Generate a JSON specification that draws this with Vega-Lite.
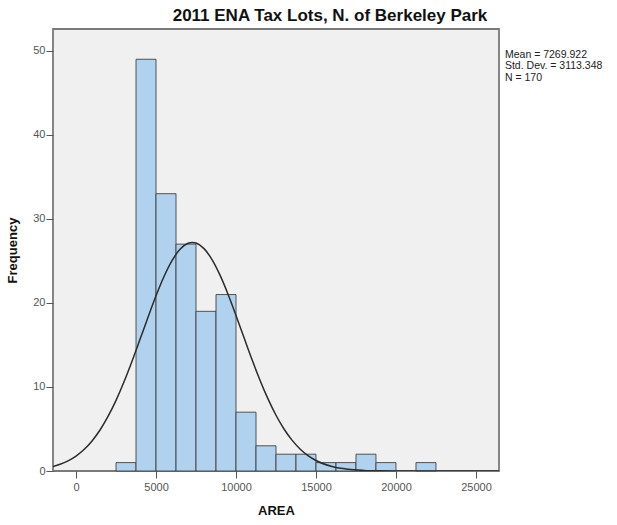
{
  "$schema": "https://vega.github.io/schema/vega-lite/v6.json",
  "autosize": {"type": "none"},
  "padding": {"left": 53, "top": 29, "right": 118, "bottom": 54},
  "width": 446,
  "height": 442,
  "background": "white",
  "config": {
    "view": {"fill": "#f0f0f0", "stroke": "#7a7a7a", "strokeWidth": 1.8},
    "font": "Liberation Sans",
    "axis": {
      "grid": false,
      "domain": false,
      "tickColor": "#555555",
      "tickSize": 7,
      "labelColor": "#555555",
      "labelFont": "Liberation Sans",
      "labelFontSize": 11,
      "titleFont": "Liberation Sans",
      "titleFontSize": 13,
      "titleFontWeight": "bold",
      "titleColor": "#111111"
    }
  },
  "title": {
    "text": "2011 ENA Tax Lots, N. of Berkeley Park",
    "font": "Liberation Sans",
    "fontSize": 17,
    "fontWeight": "bold",
    "color": "#111111",
    "anchor": "middle",
    "dx": 54,
    "offset": 4
  },
  "datasets": {
    "bins": [
      {"start": 2500, "end": 3750, "count": 1},
      {"start": 3750, "end": 5000, "count": 49},
      {"start": 5000, "end": 6250, "count": 33},
      {"start": 6250, "end": 7500, "count": 27},
      {"start": 7500, "end": 8750, "count": 19},
      {"start": 8750, "end": 10000, "count": 21},
      {"start": 10000, "end": 11250, "count": 7},
      {"start": 11250, "end": 12500, "count": 3},
      {"start": 12500, "end": 13750, "count": 2},
      {"start": 13750, "end": 15000, "count": 2},
      {"start": 15000, "end": 16250, "count": 1},
      {"start": 16250, "end": 17500, "count": 1},
      {"start": 17500, "end": 18750, "count": 2},
      {"start": 18750, "end": 20000, "count": 1},
      {"start": 21250, "end": 22500, "count": 1}
    ],
    "curve": [
      {"x": -1440, "y": 0.543},
      {"x": -1000, "y": 0.798},
      {"x": -500, "y": 1.207},
      {"x": 0, "y": 1.78},
      {"x": 500, "y": 2.555},
      {"x": 1000, "y": 3.578},
      {"x": 1500, "y": 4.882},
      {"x": 2000, "y": 6.49},
      {"x": 2500, "y": 8.409},
      {"x": 3000, "y": 10.617},
      {"x": 3500, "y": 13.063},
      {"x": 4000, "y": 15.666},
      {"x": 4500, "y": 18.308},
      {"x": 5000, "y": 20.85},
      {"x": 5500, "y": 23.141},
      {"x": 6000, "y": 25.028},
      {"x": 6500, "y": 26.381},
      {"x": 7000, "y": 27.098},
      {"x": 7270, "y": 27.2},
      {"x": 7500, "y": 27.126},
      {"x": 8000, "y": 26.462},
      {"x": 8500, "y": 25.158},
      {"x": 9000, "y": 23.308},
      {"x": 9500, "y": 21.045},
      {"x": 10000, "y": 18.517},
      {"x": 10500, "y": 15.878},
      {"x": 11000, "y": 13.268},
      {"x": 11500, "y": 10.805},
      {"x": 12000, "y": 8.576},
      {"x": 12500, "y": 6.632},
      {"x": 13000, "y": 4.999},
      {"x": 13500, "y": 3.671},
      {"x": 14000, "y": 2.628},
      {"x": 14500, "y": 1.833},
      {"x": 15000, "y": 1.246},
      {"x": 16000, "y": 0.533},
      {"x": 17000, "y": 0.206},
      {"x": 18000, "y": 0.072},
      {"x": 19000, "y": 0.02},
      {"x": 20000, "y": 0.005},
      {"x": 22000, "y": 0},
      {"x": 26440, "y": 0}
    ],
    "stats": [
      {"label": "Mean = 7269.922", "x": 26812, "y": 49.56},
      {"label": "Std. Dev. = 3113.348", "x": 26812, "y": 48.17},
      {"label": "N = 170", "x": 26812, "y": 46.79}
    ]
  },
  "layer": [
    {
      "data": {"name": "bins"},
      "mark": {"type": "bar", "fill": "#b1d2ee", "stroke": "#3a3a3a", "strokeWidth": 1, "strokeOpacity": 0.85},
      "encoding": {
        "x": {
          "field": "start", "type": "quantitative",
          "scale": {"domain": [-1440, 26440], "nice": false, "zero": false},
          "axis": {"values": [0, 5000, 10000, 15000, 20000, 25000], "format": "d", "title": "AREA", "titlePadding": 12, "labelPadding": 3}
        },
        "x2": {"field": "end"},
        "y": {
          "field": "count", "type": "quantitative",
          "scale": {"domain": [0, 52.6], "nice": false},
          "axis": {"values": [0, 10, 20, 30, 40, 50], "title": "Frequency", "titlePadding": 13, "labelPadding": 1}
        },
        "y2": {"datum": 0}
      }
    },
    {
      "data": {"name": "curve"},
      "mark": {"type": "line", "color": "#2b2b2b", "strokeWidth": 1.5, "interpolate": "monotone", "clip": true},
      "encoding": {
        "x": {"field": "x", "type": "quantitative"},
        "y": {"field": "y", "type": "quantitative"}
      }
    },
    {
      "data": {"name": "stats"},
      "mark": {"type": "text", "align": "left", "baseline": "middle", "fontSize": 10.5, "color": "#222222", "font": "Liberation Sans"},
      "encoding": {
        "x": {"field": "x", "type": "quantitative"},
        "y": {"field": "y", "type": "quantitative"},
        "text": {"field": "label"}
      }
    }
  ]
}
